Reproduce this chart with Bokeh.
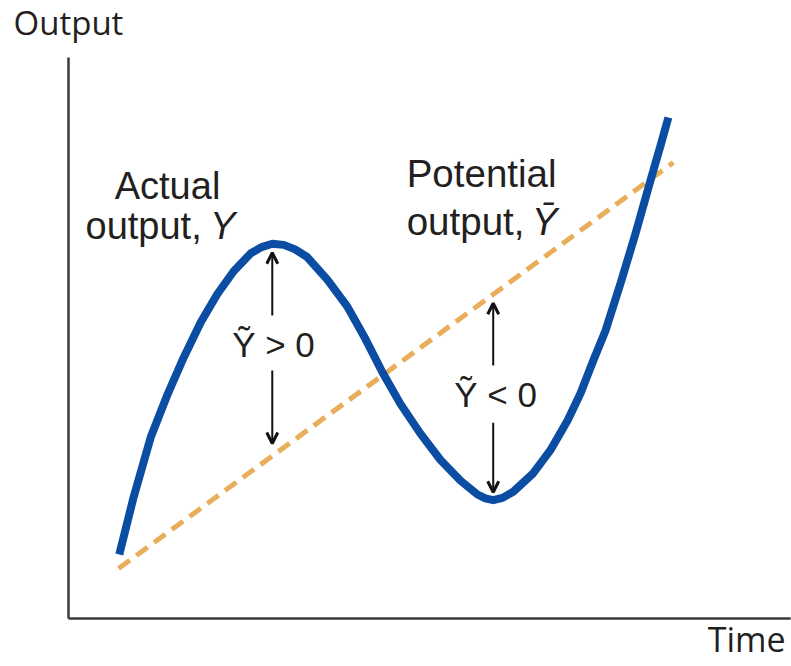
from bokeh.plotting import figure
from bokeh.models import Range1d, Label, Arrow, OpenHead
from bokeh.embed import file_html
from bokeh.resources import INLINE

# ---- data (time, output) in arbitrary units, axes run 0..100 ----
actual_time = [7.1, 9.1, 11.5, 13.9, 16.1, 18.5, 20.8, 23.1, 25.5, 27.0, 28.5, 30.1,
               31.7, 33.4, 36.2, 39.0, 41.5, 43.9, 46.4, 49.2, 52.0, 54.8, 57.2, 58.3,
               59.4, 60.7, 62.2, 65.0, 67.4, 69.8, 71.6, 73.4, 75.1, 77.2, 79.3, 81.4,
               82.8, 83.9]
actual_output = [11.4, 21.6, 32.3, 40.1, 46.5, 52.8, 57.8, 61.9, 65.1, 66.2, 66.8, 66.6,
                 65.8, 64.4, 60.4, 55.6, 49.9, 43.9, 38.3, 33.0, 28.3, 24.6, 22.1, 21.4,
                 21.1, 21.5, 22.6, 25.9, 30.0, 35.3, 40.1, 46.0, 51.3, 59.7, 68.6, 78.1,
                 84.3, 89.3]
potential_time = [7.0, 84.6]
potential_output = [8.9, 81.3]

# gap arrows: (x, y_start, y_end)
gap_arrows = [(28.5, 54.0, 65.2), (28.5, 44.2, 31.2),
              (59.4, 45.1, 56.2), (59.4, 34.9, 22.5)]

W, H = 791, 666
OX, OY = 68, 618          # canvas position of the axes origin
SX, SY = 7.15, 5.61       # pixels per data unit
x_range = Range1d(-OX / SX, (W - OX) / SX)
y_range = Range1d(-(H - OY) / SY, OY / SY)

p = figure(width=W, height=H, x_range=x_range, y_range=y_range,
           x_axis_location=None, y_axis_location=None,
           toolbar_location=None, output_backend="svg", min_border=0)
p.grid.visible = False
p.outline_line_color = None
p.background_fill_color = "white"
p.border_fill_color = "white"

AX = "#3a3a3a"
# axis lines
p.segment(x0=[0, 0], y0=[0, 0], x1=[0, 101], y1=[100, 0],
          line_color=AX, line_width=2.5)

# potential output (dashed)
p.line(potential_time, potential_output, line_color="#E9AE5B", line_width=5,
       line_dash="14 8")
# actual output
p.line(actual_time, actual_output, line_color="#0A4DA3", line_width=8,
       line_join="round")

for (x, y0, y1) in gap_arrows:
    p.add_layout(Arrow(end=OpenHead(size=11, line_width=3, line_color="#111111"),
                       x_start=x, y_start=y0, x_end=x, y_end=y1,
                       line_width=2, line_color="#111111"))

FONT = "Liberation Sans"
TC = "#231f20"

def lab(x, y, text, size, align="left", style="normal", font=FONT):
    p.add_layout(Label(x=x, y=y, text=text, text_font=font,
                       text_font_size=f"{size}px", text_align=align,
                       text_baseline="alphabetic", text_color=TC,
                       text_font_style=style))

lab(13.85, 77.1, "Actual", 38, "center")
lab(2.38, 69.9, "output,", 38)
lab(19.8, 69.9, "Y", 38, style="italic")

lab(47.3, 79.4, "Potential", 38.5)
lab(47.3, 70.8, "output,", 38.5)
lab(64.8, 70.8, "\u0232", 38.5, style="italic")

lab(28.67, 48.9, "\u1EF8 > 0", 35, "center")
lab(59.72, 40.0, "\u1EF8 < 0", 35, "center")

lab(-7.69, 106.3, "Output", 33, font="Open Sans")
lab(100.3, -3.7, "Time", 34, "right", font="Open Sans")

open("out.html", "w").write(file_html(p, INLINE))
